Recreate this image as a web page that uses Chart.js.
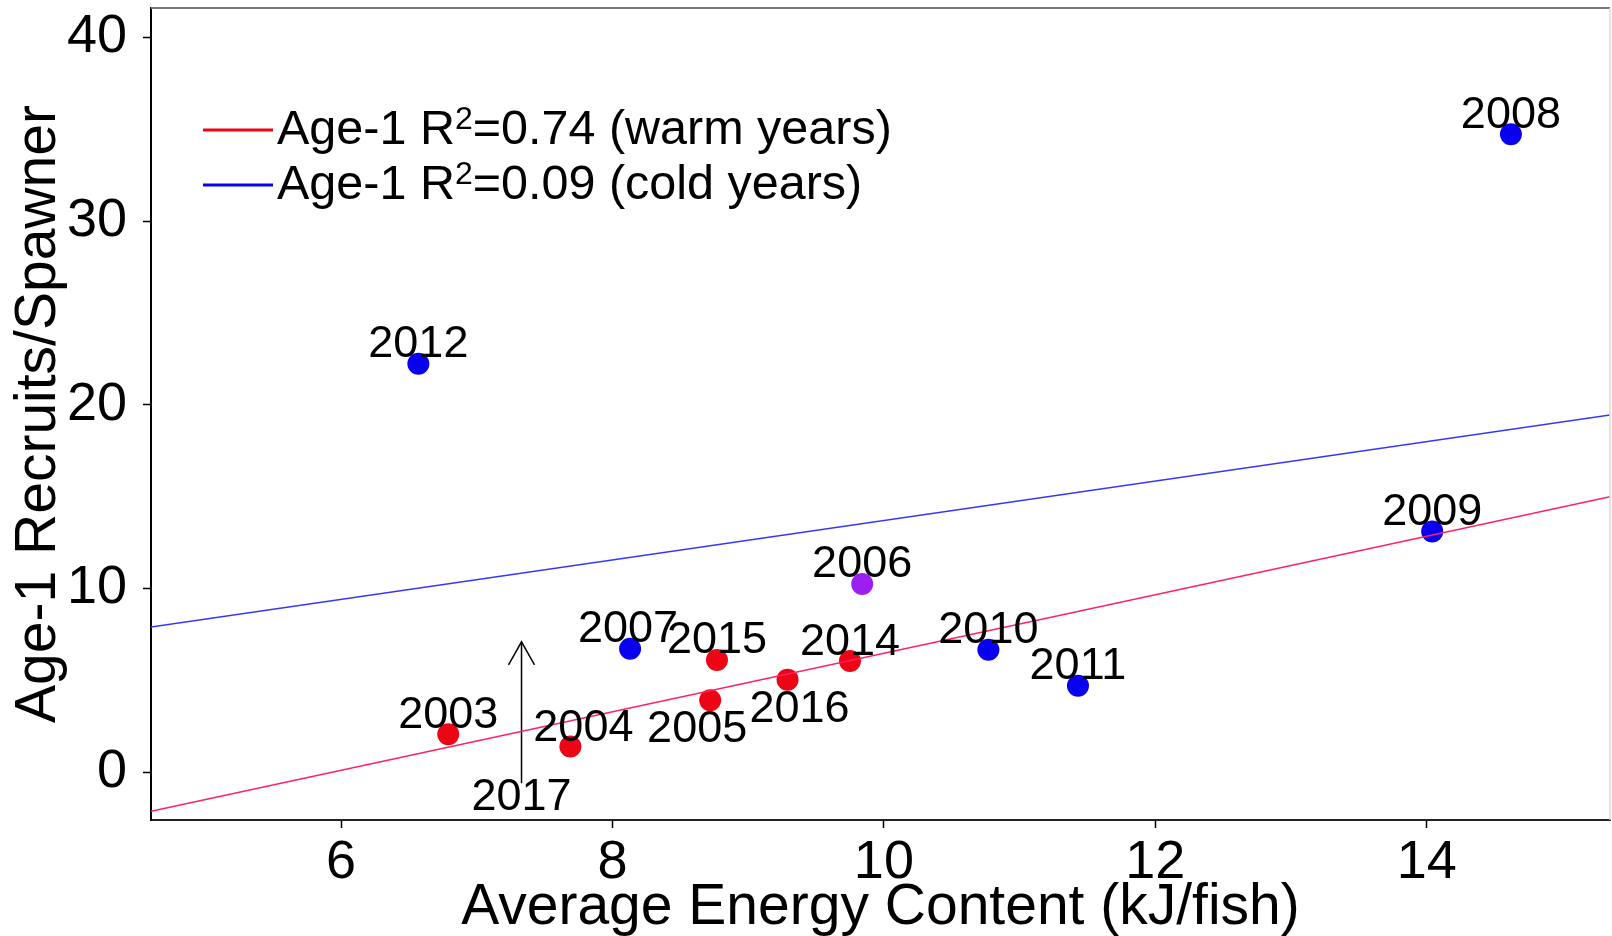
<!DOCTYPE html>
<html>
<head>
<meta charset="utf-8">
<title>Age-1 Recruits/Spawner vs Average Energy Content</title>
<script src="https://cdn.jsdelivr.net/npm/chart.js@4.4.1/dist/chart.umd.min.js"></script>
<style>
  html, body { margin: 0; padding: 0; background: #fff; overflow: hidden; }
  #wrap { width: 1612px; height: 936px; position: relative; }
</style>
</head>
<body>
<div id="wrap"><canvas id="recruitChart"></canvas></div>
<script>
// Data
const warmYears = ['2003', '2004', '2005', '2014', '2015', '2016'];
const warmEnergy = [6.79, 7.69, 8.72, 9.75, 8.77, 9.29];
const warmRecruits = [2.07, 1.40, 3.92, 6.05, 6.11, 5.04];

const coldYears = ['2007', '2008', '2009', '2010', '2011', '2012'];
const coldEnergy = [8.13, 14.62, 14.04, 10.77, 11.43, 6.57];
const coldRecruits = [6.72, 34.73, 13.11, 6.67, 4.71, 22.24];

const midYears = ['2006'];
const midEnergy = [9.84];
const midRecruits = [10.25];

// regression lines, end points at the axis limits
const fitEnergy = [4.6, 15.35];
const warmFit = [-2.13, 15.0];
const coldFit = [7.9, 19.44];

// 2017 arrow (value above the drawn range of the marker)
const arrowYear = '2017';
const arrowEnergy = [7.33, 7.33];
const arrowRecruits = [-0.6, 7.1];

const xTicks = [6, 8, 10, 12, 14];
const yTicks = [0, 10, 20, 30, 40];
const legendLabels = ['Age-1 R²=0.74 (warm years)', 'Age-1 R²=0.09 (cold years)'];

const FONT = "'Liberation Sans', Arial, sans-serif";
const RED = '#ee0515';
const BLUE = '#0a00f0';
const PURPLE = '#9b1ff0';

const pts = (xs, ys) => xs.map((x, i) => ({ x: x, y: ys[i] }));

// label offsets from the dot (px): [dx, baseline dy]
const labelOffsets = { '2004': [13, -6], '2005': [-13, 42], '2016': [12, 42], '2007': [-2, -6.5] };

const yearLabels = {
    id: 'yearLabels',
    afterDatasetsDraw(chart) {
        const ctx = chart.ctx;
        ctx.save();
        ctx.font = '45px ' + FONT;
        ctx.fillStyle = '#000';
        ctx.textAlign = 'center';
        ctx.textBaseline = 'alphabetic';
        chart.data.datasets.forEach((ds, i) => {
            if (!ds.years) return;
            const meta = chart.getDatasetMeta(i);
            meta.data.forEach((pt, j) => {
                const yr = ds.years[j];
                const off = labelOffsets[yr] || [0, -6.5];
                ctx.fillText(yr, pt.x + off[0], pt.y + off[1]);
            });
        });

        // arrow head + label for 2017
        const arrowIdx = chart.data.datasets.findIndex(d => d.isArrow);
        if (arrowIdx >= 0) {
            const a = chart.getDatasetMeta(arrowIdx).data;
            const bottom = a[0], tip = a[1];
            ctx.strokeStyle = '#000';
            ctx.lineWidth = 1.5;
            ctx.beginPath();
            ctx.moveTo(tip.x - 13, tip.y + 23);
            ctx.lineTo(tip.x, tip.y);
            ctx.lineTo(tip.x + 13, tip.y + 23);
            ctx.stroke();
            ctx.fillText(arrowYear, bottom.x, bottom.y + 27);
        }
        ctx.restore();
    }
};

const frameAndLegend = {
    id: 'frameAndLegend',
    afterDraw(chart) {
        const ctx = chart.ctx;
        const ca = chart.chartArea;
        ctx.save();
        // top and right frame
        ctx.strokeStyle = '#777';
        ctx.lineWidth = 2;
        ctx.beginPath();
        ctx.moveTo(ca.left, ca.top);
        ctx.lineTo(ca.right, ca.top);
        ctx.stroke();
        ctx.strokeStyle = '#d8d8d8';
        ctx.lineWidth = 1.5;
        ctx.beginPath();
        ctx.moveTo(ca.right, ca.top);
        ctx.lineTo(ca.right, ca.bottom);
        ctx.stroke();

        // legend
        const colors = [RED, BLUE];
        legendLabels.forEach((txt, i) => {
            const lineY = 130 + i * 55;
            const base = lineY + 14;
            ctx.strokeStyle = colors[i];
            ctx.lineWidth = 3;
            ctx.beginPath();
            ctx.moveTo(203, lineY);
            ctx.lineTo(273, lineY);
            ctx.stroke();

            const parts = txt.split('²');
            ctx.fillStyle = '#000';
            ctx.textAlign = 'left';
            ctx.textBaseline = 'alphabetic';
            let x = 277;
            ctx.font = '48.5px ' + FONT;
            ctx.fillText(parts[0], x, base);
            x += ctx.measureText(parts[0]).width;
            ctx.font = '32px ' + FONT;
            ctx.fillText('2', x, base - 15);
            x += ctx.measureText('2').width;
            ctx.font = '48.5px ' + FONT;
            ctx.fillText(parts[1], x, base);
        });
        ctx.restore();
    }
};

const ctx = document.getElementById('recruitChart').getContext('2d');
new Chart(ctx, {
    type: 'scatter',
    data: {
        datasets: [
            { label: 'warm fit', data: pts(fitEnergy, warmFit), showLine: true, borderColor: '#ff2060', borderWidth: 1.5, pointRadius: 0, order: 0 },
            { label: 'cold fit', data: pts(fitEnergy, coldFit), showLine: true, borderColor: '#3535ff', borderWidth: 1.5, pointRadius: 0, order: 0 },
            { label: 'arrow', isArrow: true, data: pts(arrowEnergy, arrowRecruits), showLine: true, borderColor: '#000', borderWidth: 1.5, pointRadius: 0, order: 0 },
            { label: 'warm', years: warmYears, data: pts(warmEnergy, warmRecruits), backgroundColor: RED, borderWidth: 0, pointRadius: 11, order: 1 },
            { label: 'cold', years: coldYears, data: pts(coldEnergy, coldRecruits), backgroundColor: BLUE, borderWidth: 0, pointRadius: 11, order: 1 },
            { label: 'mid', years: midYears, data: pts(midEnergy, midRecruits), backgroundColor: PURPLE, borderWidth: 0, pointRadius: 11, order: 1 }
        ]
    },
    options: {
        responsive: true,
        maintainAspectRatio: false,
        animation: false,
        layout: { autoPadding: false, padding: { top: 8, right: 2, left: 0, bottom: 0 } },
        plugins: { legend: { display: false }, tooltip: { enabled: false } },
        scales: {
            x: {
                type: 'linear',
                min: 4.6,
                max: 15.35,
                afterBuildTicks: s => { s.ticks = xTicks.map(v => ({ value: v })); },
                afterFit: s => { s.height = 116; s.paddingLeft = 0; s.paddingRight = 0; },
                grid: { drawOnChartArea: false, tickLength: 8, tickColor: '#000', tickWidth: 1.5 },
                border: { color: '#222', width: 2 },
                ticks: { color: '#000', font: { family: FONT, size: 54 }, padding: 3, maxRotation: 0 },
                title: { display: true, text: 'Average Energy Content (kJ/fish)', color: '#000', font: { family: FONT, size: 57 }, padding: { top: 4, bottom: -6 } }
            },
            y: {
                type: 'linear',
                min: -2.6,
                max: 41.6,
                afterBuildTicks: s => { s.ticks = yTicks.map(v => ({ value: v })); },
                afterFit: s => { s.width = 151; s.paddingTop = 0; s.paddingBottom = 0; },
                grid: { drawOnChartArea: false, tickLength: 8, tickColor: '#000', tickWidth: 1.5 },
                border: { color: '#000', width: 2 },
                ticks: { color: '#000', font: { family: FONT, size: 54 }, padding: 16 },
                title: { display: true, text: 'Age-1 Recruits/Spawner', color: '#000', font: { family: FONT, size: 57 }, padding: { top: 5, bottom: 0 } }
            }
        }
    },
    plugins: [yearLabels, frameAndLegend]
});
</script>
</body>
</html>
